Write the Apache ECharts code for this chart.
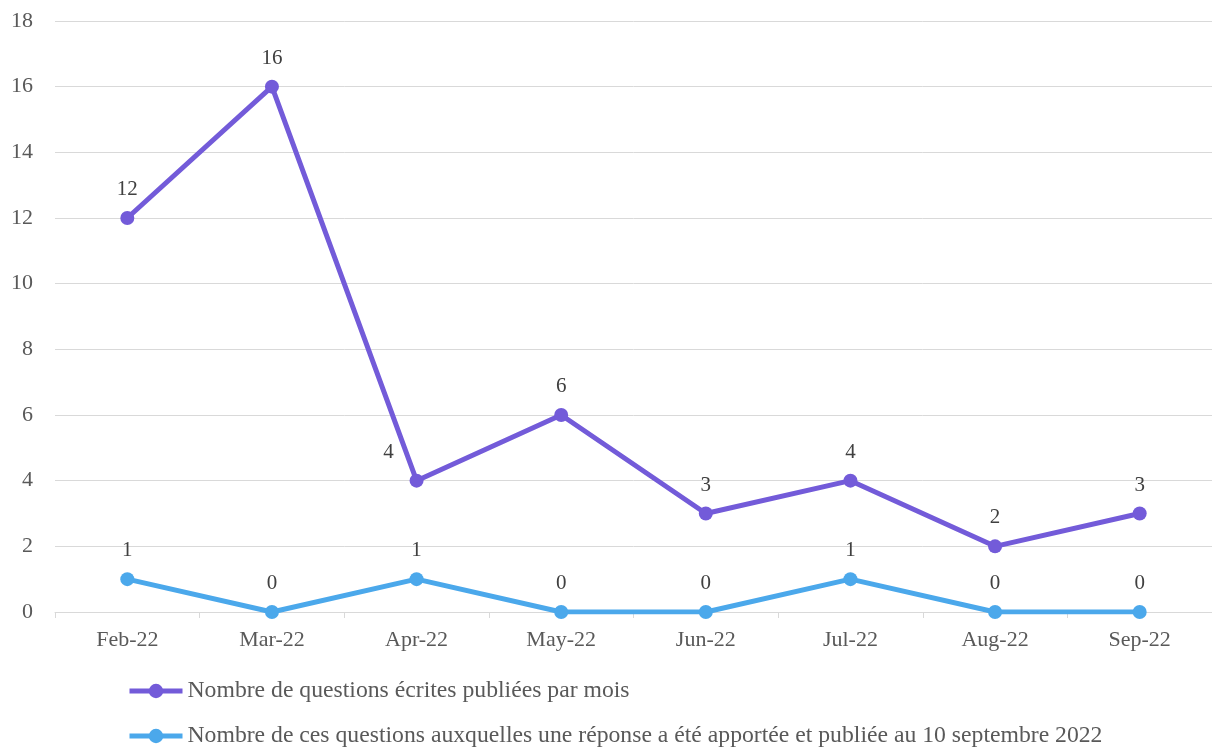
<!DOCTYPE html>
<html>
<head>
<meta charset="utf-8">
<script src="https://cdn.jsdelivr.net/npm/echarts@6/dist/echarts.min.js"></script>
<style>
  html, body { margin: 0; padding: 0; background: #fff; }
  #chart { width: 1212px; height: 751px; }
</style>
</head>
<body>
<div id="chart"></div>
<script>
const months = ['Feb-22', 'Mar-22', 'Apr-22', 'May-22', 'Jun-22', 'Jul-22', 'Aug-22', 'Sep-22'];
const published = [12, 16, 4, 6, 3, 4, 2, 3];
const answered = [1, 0, 1, 0, 0, 1, 0, 0];
const seriesNames = [
  'Nombre de questions écrites publiées par mois',
  'Nombre de ces questions auxquelles une réponse a été apportée et publiée au 10 septembre 2022'
];

const font = 'Liberation Serif';
const textColor = '#595959';

// the "4" on Apr-22 sits a bit to the left in the original
function withOffsets(values, shifted) {
  return values.map((v, i) => i === shifted ? { value: v, label: { offset: [-28, 0] } } : v);
}

const chart = echarts.init(document.getElementById('chart'));
chart.setOption({
  animation: false,
  textStyle: { fontFamily: font },
  grid: { left: 55, right: 0, top: 21, bottom: 139 },
  legend: {
    orient: 'vertical',
    left: 122,
    top: 674,
    height: 110,
    width: 1050,
    itemGap: 21,
    itemWidth: 53,
    itemHeight: 18,
    lineStyle: { width: 5 },
    textStyle: { fontFamily: font, fontSize: 23.7, color: textColor, padding: [0, 0, 0, 0] },
    data: seriesNames
  },
  xAxis: {
    type: 'category',
    data: months,
    boundaryGap: true,
    axisLine: { lineStyle: { color: '#d9d9d9', width: 1 } },
    axisTick: { show: true, length: 6, lineStyle: { color: '#d9d9d9' } },
    axisLabel: { fontFamily: font, fontSize: 22, color: textColor, margin: 17 }
  },
  yAxis: {
    type: 'value',
    min: 0,
    max: 18,
    interval: 2,
    axisLine: { show: false },
    axisTick: { show: false },
    axisLabel: { fontFamily: font, fontSize: 22, color: textColor, margin: 22 },
    splitLine: { lineStyle: { color: '#d9d9d9', width: 1 } }
  },
  series: [
    {
      name: seriesNames[0],
      type: 'line',
      data: withOffsets(published, 2),
      color: '#735BD9',
      symbol: 'circle',
      symbolSize: 14,
      lineStyle: { width: 5 },
      label: { show: true, position: 'top', distance: 11, fontFamily: font, fontSize: 21, color: '#404040' }
    },
    {
      name: seriesNames[1],
      type: 'line',
      data: answered,
      color: '#4BA8EB',
      symbol: 'circle',
      symbolSize: 14,
      lineStyle: { width: 5 },
      label: { show: true, position: 'top', distance: 11, fontFamily: font, fontSize: 21, color: '#404040' }
    }
  ]
});
</script>
</body>
</html>
